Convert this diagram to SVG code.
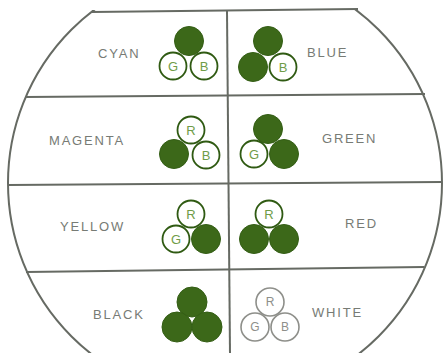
<svg xmlns="http://www.w3.org/2000/svg" width="445" height="353" viewBox="0 0 445 353">
<style>
.frame{fill:none;stroke:#666a63;stroke-width:2}
.lbl{font-family:"Liberation Sans",Arial,sans-serif;font-size:13px;fill:#777b75;letter-spacing:1.8px}
.on{fill:#3c6819;stroke:#345e15;stroke-width:1}
.off{fill:#fff;stroke:#2f5a12;stroke-width:1.8}
.offw{fill:#fff;stroke:#8e8f8a;stroke-width:1.6}
.ltr{font-family:"Liberation Sans",Arial,sans-serif;font-size:13px;fill:#6f9c48;text-anchor:middle}
.ltrw{font-family:"Liberation Sans",Arial,sans-serif;font-size:12px;fill:#8e8f8a;text-anchor:middle}
</style>
<defs>
<clipPath id="clip"><rect x="0" y="10" width="445" height="343"/></clipPath>
</defs>
<rect width="445" height="353" fill="#fff"/>
<g id="connectors">
<circle class="frame" cx="225" cy="183" r="217" clip-path="url(#clip)"/>
<line class="frame" x1="92" y1="12" x2="358" y2="9"/>
<line class="frame" x1="25" y1="97" x2="425" y2="94"/>
<line class="frame" x1="8" y1="185" x2="442" y2="182"/>
<line class="frame" x1="26" y1="272" x2="424" y2="267"/>
<line class="frame" x1="227" y1="11" x2="230" y2="353"/>
</g>
<g id="cyan">
<text class="lbl" x="98" y="58">CYAN</text>
<circle class="on" cx="189" cy="41" r="14.5"/>
<circle class="off" cx="173" cy="66" r="13.5"/>
<circle class="off" cx="204" cy="66" r="13.5"/>
<text class="ltr" x="173" y="70.5">G</text>
<text class="ltr" x="204" y="70.5">B</text>
</g>
<g id="blue">
<text class="lbl" x="307" y="57">BLUE</text>
<circle class="on" cx="268" cy="41" r="14.5"/>
<circle class="on" cx="253" cy="67" r="14.5"/>
<circle class="off" cx="283" cy="67" r="13.5"/>
<text class="ltr" x="283" y="71.5">B</text>
</g>
<g id="magenta">
<text class="lbl" x="49" y="145">MAGENTA</text>
<circle class="off" cx="191" cy="130" r="13.5"/>
<circle class="on" cx="174" cy="154" r="14.5"/>
<circle class="off" cx="206" cy="155" r="13.5"/>
<text class="ltr" x="191" y="134.5">R</text>
<text class="ltr" x="206" y="159.5">B</text>
</g>
<g id="green">
<text class="lbl" x="322" y="143">GREEN</text>
<circle class="on" cx="268" cy="129" r="14.5"/>
<circle class="off" cx="254" cy="154" r="13.5"/>
<circle class="on" cx="284" cy="154" r="14.5"/>
<text class="ltr" x="254" y="158.5">G</text>
</g>
<g id="yellow">
<text class="lbl" x="60" y="231">YELLOW</text>
<circle class="off" cx="191" cy="214" r="13.5"/>
<circle class="off" cx="176" cy="239" r="13.5"/>
<circle class="on" cx="206" cy="239" r="14.5"/>
<text class="ltr" x="191" y="218.5">R</text>
<text class="ltr" x="176" y="243.5">G</text>
</g>
<g id="red">
<text class="lbl" x="345" y="228">RED</text>
<circle class="off" cx="269" cy="214" r="13.5"/>
<circle class="on" cx="254" cy="239" r="14.5"/>
<circle class="on" cx="284" cy="239" r="14.5"/>
<text class="ltr" x="269" y="218.5">R</text>
</g>
<g id="black">
<text class="lbl" x="93" y="319">BLACK</text>
<circle class="on" cx="192" cy="302" r="15"/>
<circle class="on" cx="177" cy="327" r="15"/>
<circle class="on" cx="207" cy="327" r="15"/>
</g>
<g id="white">
<text class="lbl" x="312" y="317">WHITE</text>
<circle class="offw" cx="270" cy="302" r="14"/>
<circle class="offw" cx="255" cy="327" r="14"/>
<circle class="offw" cx="285" cy="327" r="14"/>
<text class="ltrw" x="270" y="306">R</text>
<text class="ltrw" x="255" y="331">G</text>
<text class="ltrw" x="285" y="331">B</text>
</g>
</svg>
